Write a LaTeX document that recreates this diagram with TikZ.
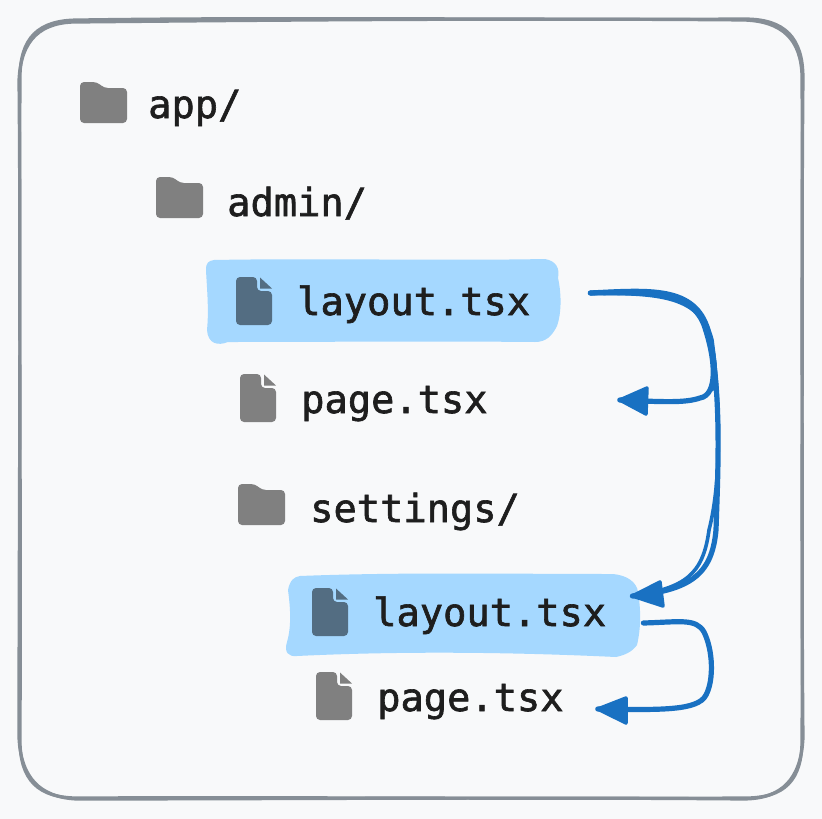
\documentclass[tikz,border=0pt]{standalone}
\usepackage{fontspec}
\setmonofont[FakeBold=1.6]{DejaVu Sans Mono}
\definecolor{bgc}{HTML}{F8F9FA}
\definecolor{framec}{HTML}{868E96}
\definecolor{hl}{HTML}{A5D8FF}
\definecolor{arrowc}{HTML}{1971C2}
\definecolor{ink}{HTML}{1E1E1E}
\definecolor{icon}{HTML}{808080}
\definecolor{iconhl}{HTML}{536D82}
\tikzset{
  label/.style={inner sep=0pt,anchor=base west,text=ink,font=\ttfamily\fontsize{38.7}{44}\selectfont},
  frameline/.style={draw=framec,line width=3.2pt,line join=round},
  highlight/.style={fill=hl,draw=none},
  conn/.style={draw=arrowc,line width=5.2pt,line cap=round,line join=round},
  connthin/.style={draw=arrowc,line width=3.6pt,line cap=round,line join=round},
  tip/.style={fill=arrowc,draw=arrowc,line width=3.5pt,line join=round},
  pics/folder/.style={code={
    \fill[#1,rounded corners=4pt] (0,0) -- (17,0) -- (24,6) -- (47,6) -- (47,41) -- (0,41) -- cycle;
  }},
  pics/doc/.style={code={
    \fill[#1,rounded corners=4pt] (0,0) -- (21,0) -- (21,14) -- (36,14) -- (36,48) -- (0,48) -- cycle;
    \fill[#1] (24,0.5) -- (36,11.5) -- (24,11.5) -- cycle;
  }},
}
\begin{document}
\begin{tikzpicture}[x=1pt,y=-1pt]
\useasboundingbox (0,0) rectangle (822,819);
\fill[bgc] (0,0) rectangle (822,819);
% frame
\path[frameline] (78,20) .. controls (280,17) and (520,20) .. (745,19)
  .. controls (785,19) and (803,38) .. (803,78)
  .. controls (801,300) and (803,520) .. (802,740)
  .. controls (802,780) and (785,798) .. (745,798)
  .. controls (520,799) and (280,797) .. (78,798)
  .. controls (38,798) and (20,780) .. (20,740)
  .. controls (21,520) and (19,300) .. (20,78)
  .. controls (20,38) and (38,20) .. (78,20) -- cycle;
\path[frameline] (80,22) .. controls (280,20) and (520,18) .. (743,20)
  .. controls (783,21) and (801,40) .. (802,76)
  .. controls (803,300) and (801,520) .. (803,738)
  .. controls (801,778) and (783,799) .. (743,799)
  .. controls (520,797) and (280,799) .. (76,799)
  .. controls (40,797) and (21,778) .. (19,738)
  .. controls (19,520) and (21,300) .. (19,80)
  .. controls (21,40) and (40,21) .. (80,22) -- cycle;
% highlights
\path[highlight] (214,260) .. controls (320,258) and (440,261) .. (545,259)
  .. controls (556,261) and (560,268) .. (558,278)
  .. controls (562,296) and (561,315) .. (557,326)
  .. controls (552,336) and (546,342) .. (535,342)
  .. controls (430,341) and (320,342) .. (228,342)
  .. controls (218,346) and (208,344) .. (207,330)
  .. controls (209,310) and (207,290) .. (206,270)
  .. controls (206,263) and (208,261) .. (214,260) -- cycle;
\path[highlight] (300,576) .. controls (400,572) and (510,574) .. (612,574)
  .. controls (628,575) and (637,583) .. (638,592)
  .. controls (641,610) and (641,628) .. (637,645)
  .. controls (632,652) and (625,655) .. (616,657)
  .. controls (510,652) and (400,651) .. (297,656)
  .. controls (288,657) and (284,652) .. (287,642)
  .. controls (292,625) and (290,605) .. (288,590)
  .. controls (290,580) and (294,577) .. (300,576) -- cycle;
% icons
\pic at (80,82) {folder=icon};
\pic at (156,177) {folder=icon};
\pic at (238,484) {folder=icon};
\pic at (236,277) {doc=iconhl};
\pic at (240,374) {doc=icon};
\pic at (312,588) {doc=iconhl};
\pic at (316,672) {doc=icon};
% labels
\node[label] (app) at (148,118) {app/};
\node[label] (admin) at (227,216) {admin/};
\node[label] (lay1) at (297,315) {layout.tsx};
\node[label] (page1) at (301,413) {page.tsx};
\node[label] (settings) at (310,522) {settings/};
\node[label] (lay2) at (373,626) {layout.tsx};
\node[label] (page2) at (377,711) {page.tsx};
% connector ends
\coordinate (s1) at ([shift={(60,-22)}]lay1.base east);
\coordinate (e1) at ([shift={(132,-13)}]page1.base east);
\coordinate (e2) at ([shift={(26,-30)}]lay2.base east);
\coordinate (s3) at ([shift={(37,-3)}]lay2.base east);
\coordinate (e3) at ([shift={(34,-2)}]page2.base east);
% connectors
\path[conn] (s1) .. controls (640,292) and (690,288) .. (704,325)
  .. controls (716,360) and (718,395) .. (700,398)
  .. controls (685,403) and (665,402) .. (e1);
\path[connthin] (s1) .. controls (650,296) and (686,285) .. (706,325)
  .. controls (718,360) and (716,380) .. (712,390);
\path[conn] (s1) .. controls (650,290) and (695,286) .. (708,330)
  .. controls (722,390) and (718,470) .. (716,530)
  .. controls (712,575) and (690,590) .. (e2);
\path[connthin] (s1) .. controls (650,294) and (700,292) .. (712,340)
  .. controls (720,400) and (722,480) .. (709,530)
  .. controls (703,575) and (685,588) .. (e2);
\path[tip] (e1) -- (647,388) -- (646,414) -- cycle;
\path[tip] (e2) -- (660,582) -- (663,606) -- cycle;
\path[conn] (s3) .. controls (680,622) and (696,618) .. (704,632)
  .. controls (713,650) and (714,680) .. (706,695)
  .. controls (698,711) and (660,710) .. (e3);
\path[tip] (e3) -- (626,698) -- (626,723) -- cycle;
\end{tikzpicture}
\end{document}
